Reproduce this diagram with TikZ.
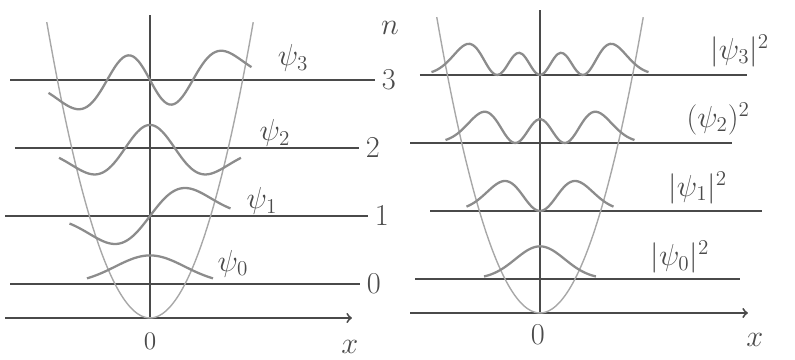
\documentclass[tikz,border=0pt]{standalone}
\usepackage{amsmath,amssymb}
\usepackage{xcolor}
\definecolor{pencil}{HTML}{4A4A4A}
\definecolor{wavegray}{HTML}{8C8C8C}
\definecolor{wellgray}{HTML}{A8A8A8}
\tikzset{
  level/.style={pencil,line width=1.1pt},
  wave/.style={wavegray,line width=1.3pt,smooth,samples=80},
  well/.style={wellgray,line width=0.8pt,smooth,samples=60},
  lbl/.style={pencil,font=\LARGE},
}

\begin{document}
\begin{tikzpicture}[>=to,
  declare function={g(\x)=exp(-\x*\x/2);
    pa(\x)=g(\x); pb(\x)=1.414*\x*g(\x);
    pc(\x)=(1-2*\x*\x)/1.414*g(\x); pd(\x)=(2*\x*\x*\x-3*\x)/1.732*g(\x);}]
  \useasboundingbox (0,0) rectangle (15.9,-7.2);

  % wave functions
  \begin{scope}[shift={(3cm,-6.36cm)},x=0.7cm,y=1.36cm]
    \draw[level,->] (-4.14,0) -- (5.77,0);
    \draw[level] (0,0) -- (0,4.46);
    \draw[level] (-4.0,0.5) -- (6.0,0.5) node[lbl,right] (lzero) {$0$};
    \draw[level] (-4.14,1.5) -- (6.23,1.5) node[lbl,right] (lone) {$1$};
    \draw[level] (-3.86,2.5) -- (5.97,2.5) node[lbl,right] (ltwo) {$2$};
    \draw[level] (-4.0,3.5) -- (6.43,3.5) node[lbl,right] (lthree) {$3$};
    \draw[well] plot[domain=-2.95:2.95] (\x,{\x*\x/2});
    \draw[wave] plot[domain=-1.8:1.8] (\x,{0.5+0.42*pa(\x)});
    \draw[wave] plot[domain=-2.3:2.3] (\x,{1.5+0.48*pb(\x)});
    \draw[wave] plot[domain=-2.6:2.6] (\x,{2.5+0.48*pc(\x)});
    \draw[wave] plot[domain=-2.9:2.9] (\x,{3.5+0.55*pd(\x)});
    \node[lbl] (psithree) at (4.09,3.82) {$\psi_3$};
    \node[lbl] (psitwo) at (3.57,2.72) {$\psi_2$};
    \node[lbl] (psione) at (3.2,1.72) {$\psi_1$};
    \node[lbl] (psizero) at (2.37,0.8) {$\psi_0$};
    \node[lbl] (nlabel) at (6.86,4.26) {$n$};
    \node[pencil,font=\Large] (lorigin) at (0,-0.35) {$0$};
    \node[lbl] (lx) at (5.71,-0.42) {$x$};
  \end{scope}

  % probability densities
  \begin{scope}[shift={(10.8cm,-6.26cm)},x=0.7cm,y=1.36cm]
    \draw[level,->] (-3.71,0) -- (5.94,0);
    \draw[level] (0,0) -- (0,4.46);
    \draw[level] (-3.57,0.5) -- (5.71,0.5);
    \draw[level] (-3.14,1.5) -- (6.34,1.5);
    \draw[level] (-3.71,2.5) -- (5.49,2.5);
    \draw[level] (-3.43,3.5) -- (5.91,3.5);
    \draw[well] plot[domain=-2.95:2.95] (\x,{\x*\x/2});
    \draw[wave] plot[domain=-1.6:1.6] (\x,{0.5+0.48*pa(\x)^2});
    \draw[wave] plot[domain=-2.1:2.1] (\x,{1.5+0.6*pb(\x)^2});
    \draw[wave] plot[domain=-2.7:2.7] (\x,{2.5+0.7*pc(\x)^2});
    \draw[wave] plot[domain=-3.1:3.1] (\x,{3.5+0.75*pd(\x)^2});
    \node[lbl] (rhothree) at (5.71,3.86) {$|\psi_3|^2$};
    \node[lbl] (rhotwo) at (5.09,2.86) {$(\psi_2)^2$};
    \node[lbl] (rhoone) at (4.51,1.84) {$|\psi_1|^2$};
    \node[lbl] (rhozero) at (4.0,0.82) {$|\psi_0|^2$};
    \node[lbl] (rorigin) at (-0.06,-0.32) {$0$};
    \node[lbl] (rx) at (6.14,-0.4) {$x$};
  \end{scope}
\end{tikzpicture}
\end{document}
